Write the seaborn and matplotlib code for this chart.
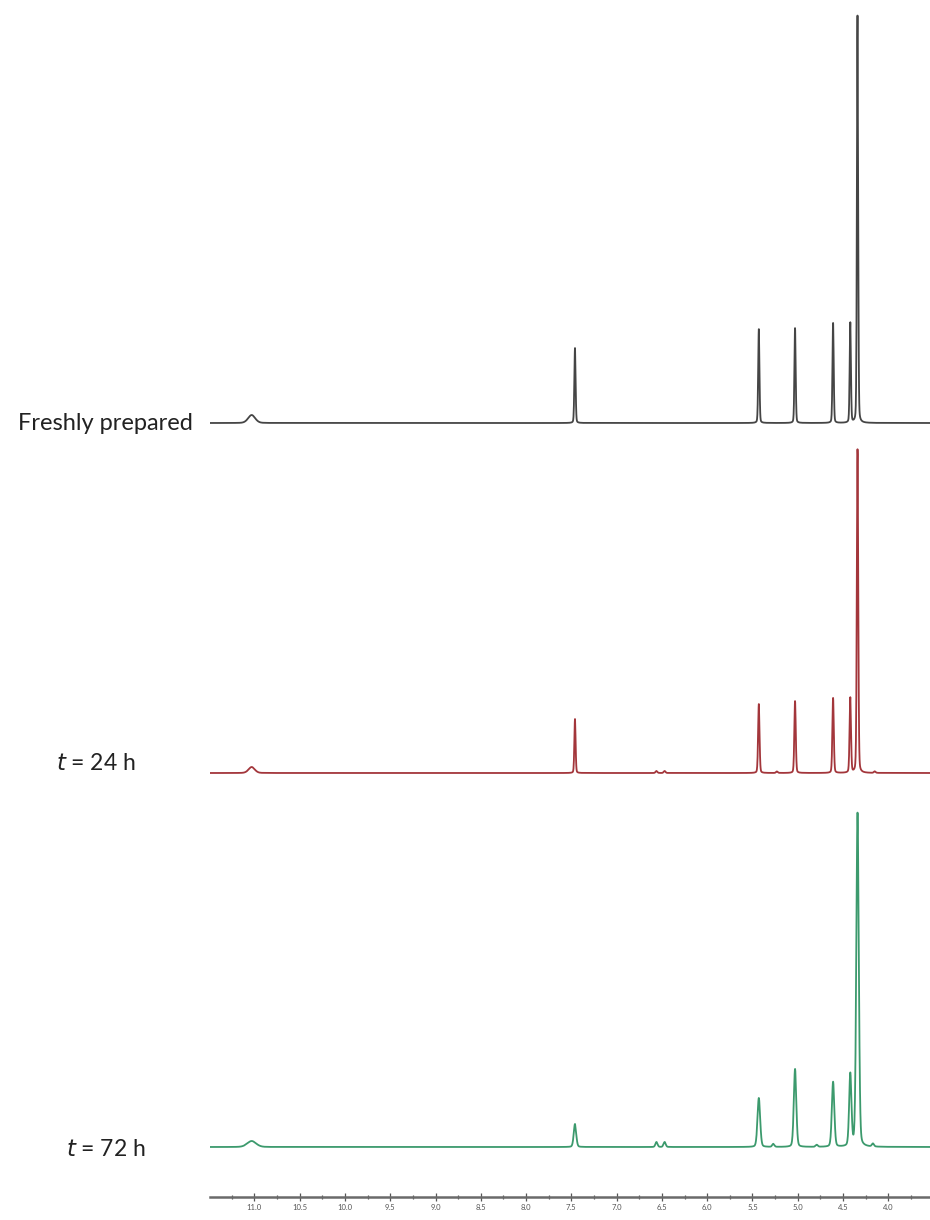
import numpy as np
import pandas as pd
import matplotlib
matplotlib.use("Agg")
import matplotlib.pyplot as plt
from matplotlib.ticker import MultipleLocator, FormatStrFormatter
import seaborn as sns

# ---- data (chemical shift in ppm, intensity in arbitrary units) ----
spectra = ["Freshly prepared", "t = 24 h", "t = 72 h"]

fresh_shifts = [11.03, 7.46, 5.43, 5.03, 4.61, 4.42, 4.34]
fresh_heights = [8, 75, 94, 95, 100, 100, 408]
fresh_widths = [0.04, 0.007, 0.007, 0.007, 0.007, 0.007, 0.007]

h24_shifts = [11.03, 7.46, 6.56, 6.47, 5.43, 5.23, 5.03, 4.61, 4.42, 4.34, 4.15]
h24_heights = [6, 54, 2, 2, 69, 1.5, 72, 75, 75, 324, 1.5]
h24_widths = [0.035, 0.007, 0.01, 0.01, 0.008, 0.01, 0.008, 0.008, 0.008, 0.008, 0.01]

h72_shifts = [11.03, 7.46, 6.56, 6.47, 5.43, 5.27, 5.03, 4.79, 4.61, 4.42, 4.34, 4.17]
h72_heights = [6, 23, 5, 5, 49, 3, 78, 2, 65, 72, 334, 3]
h72_widths = [0.05, 0.014, 0.012, 0.012, 0.015, 0.012, 0.014, 0.012, 0.014, 0.013, 0.014, 0.012]

# ---- layout / style ----
W, H = 930, 1220
axis_y_px = 1197
baseline_px = {"Freshly prepared": 423, "t = 24 h": 773, "t = 72 h": 1147}
colors = {"Freshly prepared": "#454545", "t = 24 h": "#a3363b", "t = 72 h": "#3c9a6d"}
x_left, x_right = 11.49, 3.54

ppm = np.linspace(x_right, x_left, 9000)


def spectrum(shifts, heights, widths):
    y = np.zeros_like(ppm)
    for s, h, w in zip(shifts, heights, widths):
        y += h * (0.75 * np.exp(-0.5 * ((ppm - s) / w) ** 2)
                  + 0.25 / (1 + ((ppm - s) / w) ** 2))
    return y


rows = []
for name, (sh, he, wi) in zip(spectra, [(fresh_shifts, fresh_heights, fresh_widths),
                                         (h24_shifts, h24_heights, h24_widths),
                                         (h72_shifts, h72_heights, h72_widths)]):
    off = axis_y_px - baseline_px[name]
    rows.append(pd.DataFrame({"ppm": ppm, "y": spectrum(sh, he, wi) + off, "spectrum": name}))
df = pd.concat(rows, ignore_index=True)

sns.set_theme(style="white")
plt.rcParams["font.family"] = ["Lato", "DejaVu Sans"]

fig = plt.figure(figsize=(W / 100, H / 100), dpi=100)
ax = fig.add_axes([210 / W, (H - axis_y_px) / H, (W - 210) / W, axis_y_px / H])

sns.lineplot(data=df, x="ppm", y="y", hue="spectrum", palette=colors, sort=False,
             estimator=None, linewidth=1.3, legend=False, ax=ax)

ax.set_xlim(x_left, x_right)
ax.set_ylim(0, axis_y_px)
for s in ["top", "left", "right"]:
    ax.spines[s].set_visible(False)
ax.spines["bottom"].set_color("#6a6a6a")
ax.spines["bottom"].set_linewidth(1.8)
ax.set_yticks([])
ax.set_xlabel("")
ax.set_ylabel("")
ax.xaxis.set_major_locator(MultipleLocator(0.5))
ax.xaxis.set_minor_locator(MultipleLocator(0.25))
ax.xaxis.set_major_formatter(FormatStrFormatter("%.1f"))
ax.tick_params(axis="x", which="major", direction="inout", length=6, width=0.9,
               colors="#555555", labelsize=5.5, pad=2, bottom=True)
ax.tick_params(axis="x", which="minor", direction="inout", length=3, width=0.9,
               colors="#555555", bottom=True)

# labels on the left
fig.text(193 / W, 1 - 423 / H, "Freshly prepared", ha="right", va="center",
         fontsize=17, color="#222222")
fig.text(96 / W, 1 - 763 / H, r"$\mathit{t}$ = 24 h", ha="center", va="center",
         fontsize=16.5, color="#222222")
fig.text(106 / W, 1 - 1150 / H, r"$\mathit{t}$ = 72 h", ha="center", va="center",
         fontsize=16.5, color="#222222")

fig.savefig("out.png", dpi=100)
